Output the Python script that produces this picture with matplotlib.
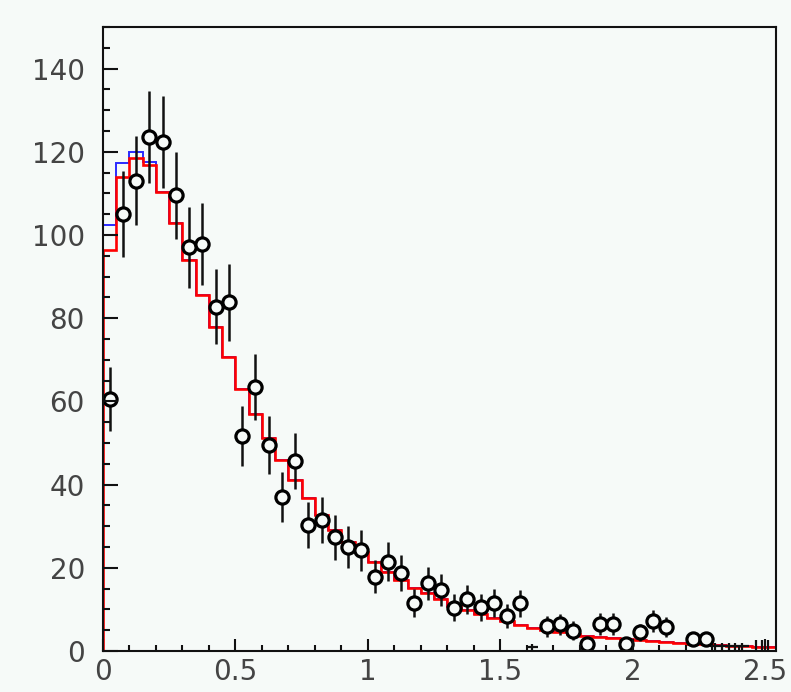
import numpy as np
import matplotlib
matplotlib.use("agg")
import matplotlib.pyplot as plt
from matplotlib.ticker import MultipleLocator, FormatStrFormatter

# binning of the histograms (width 0.05)
bin_edges = np.round(np.arange(0, 2.551, 0.05), 3)

# red curve (model), one value per bin
red_counts = [96.5, 113.9, 118.5, 116.8, 110.4, 102.8, 94.1, 85.6, 77.8, 70.6,
              63.1, 57.0, 51.2, 45.8, 41.1, 36.8, 32.6, 29.0, 26.1, 23.7,
              21.3, 19.1, 17.1, 15.1, 13.9, 12.4, 10.8, 9.9, 8.8, 7.9,
              7.1, 6.3, 5.6, 5.1, 4.6, 4.1, 3.7, 3.4, 3.2, 2.8,
              2.6, 2.4, 2.1, 2.0, 1.8, 1.7, 1.4, 1.3, 1.2, 0.9, 0.9]
# blue curve only differs from the red one in the first four bins
blue_first = [102.5, 117.2, 119.9, 117.5]
blue_counts = blue_first + red_counts[4:]

# data points (bin centres), nan = empty bin
data_x = [0.025, 0.075, 0.125, 0.175, 0.225, 0.275, 0.325, 0.375, 0.425, 0.475,
          0.525, 0.575, 0.625, 0.675, 0.725, 0.775, 0.825, 0.875, 0.925, 0.975,
          1.025, 1.075, 1.125, 1.175, 1.225, 1.275, 1.325, 1.375, 1.425, 1.475,
          1.525, 1.575, 1.625, 1.675, 1.725, 1.775, 1.825, 1.875, 1.925, 1.975,
          2.025, 2.075, 2.125, 2.175, 2.225, 2.275]
data_y = [60.6, 105.0, 113.1, 123.6, 122.3, 109.5, 97.0, 97.8, 82.8, 83.8,
          51.7, 63.4, 49.6, 37.0, 45.7, 30.3, 31.5, 27.3, 25.0, 24.2,
          17.9, 21.5, 18.7, 11.6, 16.3, 14.7, 10.4, 12.4, 10.5, 11.5,
          8.5, 11.5, np.nan, 5.9, 6.4, 4.9, 1.7, 6.5, 6.5, 1.7,
          4.5, 7.2, 5.8, np.nan, 2.8, 2.8]
data_err = [7.6, 10.3, 10.8, 11.0, 11.0, 10.5, 9.8, 9.9, 9.1, 9.2,
            7.2, 7.9, 7.0, 6.0, 6.7, 5.5, 5.6, 5.3, 5.0, 4.9,
            4.0, 4.6, 4.3, 3.4, 4.0, 3.8, 3.2, 3.5, 3.2, 3.3,
            2.9, 3.2, np.nan, 2.6, 2.5, 2.2, 1.3, 2.6, 2.6, 1.3,
            2.0, 2.6, 2.4, np.nan, 1.7, 1.7]

# small marks near the baseline
cross_x, cross_y, cross_xerr, cross_yerr = 1.62, 0.9, 0.023, 0.8
tail_x = [2.31, 2.337, 2.362, 2.387, 2.413, 2.465, 2.487, 2.51]
tail_top = [2.0, 2.0, 2.0, 2.0, 2.0, 2.6, 2.6, 2.6]
tail_line = (2.29, 2.44, 1.1)

bg = "#f6faf8"

fig = plt.figure(figsize=(7.91, 6.92), dpi=100, facecolor=bg)
ax = fig.add_axes([0.1302, 0.0592, 0.9810 - 0.1302, 0.9610 - 0.0592])
ax.set_facecolor(bg)

# histograms, blue below red (red a bit wider so it covers the shared part)
ax.stairs(blue_counts, bin_edges, baseline=0, color="#2a2aff", lw=1.4, zorder=1)
ax.stairs(red_counts, bin_edges, baseline=0, color="#ff0000", lw=1.9, zorder=1.2)

# baseline marks
ax.hlines(tail_line[2], tail_line[0], tail_line[1], color="#111111", lw=1.6, zorder=1.5)
ax.vlines(tail_x, 0, tail_top, color="#111111", lw=1.6, zorder=1.5)
ax.errorbar(cross_x, cross_y, xerr=cross_xerr, yerr=cross_yerr, fmt="none",
            ecolor="#111111", elinewidth=1.6, zorder=1.5)

# data points
x = np.array(data_x)
y = np.array(data_y)
e = np.array(data_err)
ok = ~np.isnan(y)
ax.errorbar(x[ok], y[ok], yerr=e[ok], fmt="o", ms=9.5, mfc=bg, mec="k", mew=2.3,
            ecolor="#111111", elinewidth=1.8, capsize=0, zorder=2)

ax.set_xlim(0, 2.54)
ax.set_ylim(0, 150)

ax.xaxis.set_major_locator(MultipleLocator(0.5))
ax.xaxis.set_minor_locator(MultipleLocator(0.1))
ax.yaxis.set_major_locator(MultipleLocator(20))
ax.yaxis.set_minor_locator(MultipleLocator(5))
ax.xaxis.set_major_formatter(FormatStrFormatter("%g"))
ax.yaxis.set_major_formatter(FormatStrFormatter("%g"))

ax.tick_params(axis="both", which="both", direction="in", color="#111111",
               width=1.5, labelsize=20, labelcolor="#444444")
ax.tick_params(axis="y", which="major", length=10.5, pad=13)
ax.tick_params(axis="y", which="minor", length=5)
ax.tick_params(axis="x", which="major", length=9, pad=5)
ax.tick_params(axis="x", which="minor", length=4.5)
ax.set_axisbelow(False)

for s in ax.spines.values():
    s.set_linewidth(1.5)
    s.set_color("#111111")

fig.savefig("out.png", dpi=100, facecolor=bg)
